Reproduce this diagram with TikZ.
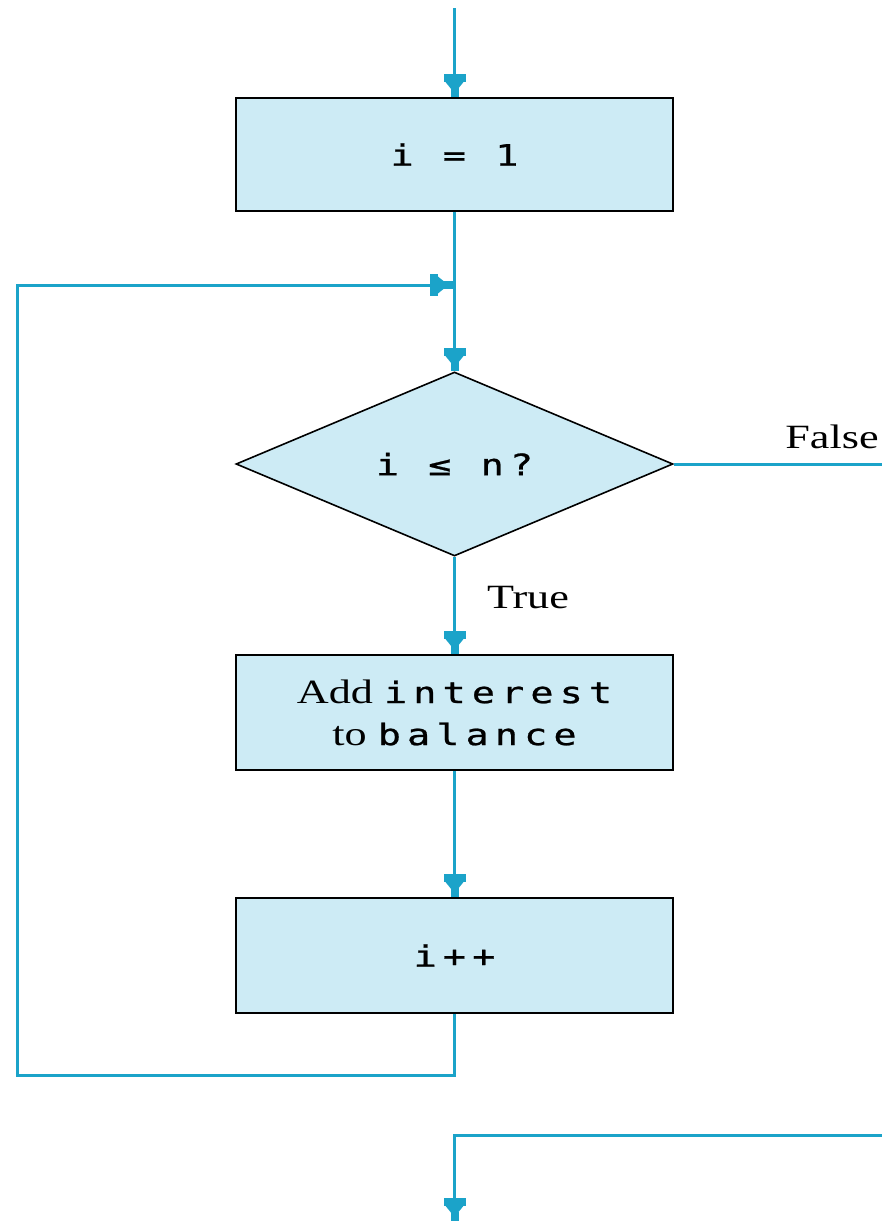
\documentclass[tikz,border=0pt]{standalone}
\usepackage{fontspec}
\setmainfont{Liberation Serif}[FakeStretch=1.3]
\newfontfamily\codefont[LetterSpace=21,FakeStretch=1.3,FakeBold=0.8]{DejaVu Sans Mono}
\newcommand{\code}[1]{{\fontsize{29.5}{42}\selectfont\codefont #1}}
\usetikzlibrary{shapes.geometric,arrows.meta}
\definecolor{flowblue}{HTML}{1BA3C9}
\definecolor{boxfill}{HTML}{CDEBF5}
\tikzset{
  x=1pt,y=-1pt,
  stepbox/.style={draw=black,line width=1.6pt,fill=boxfill,rectangle,minimum width=437pt,minimum height=113pt,inner sep=0pt,font=\fontsize{34}{42}\selectfont,align=center},
  decbox/.style={draw=black,line width=1.6pt,fill=boxfill,diamond,minimum width=437pt,minimum height=184pt,inner sep=0pt,shape aspect=2.37,font=\fontsize{34}{42}\selectfont},
  flowline/.style={draw=flowblue,line width=3pt},
  flow/.style={flowline,-{Rectangle[length=8pt,width=22pt,sep=0pt]Triangle[length=11pt,width=17pt,sep=-5pt]Rectangle[length=9pt,width=8pt]}},
  lbl/.style={font=\fontsize{34}{42}\selectfont,inner sep=0pt}
}
\begin{document}
\begin{tikzpicture}
\useasboundingbox (0,0) rectangle (882,1221);
\node[stepbox] (init) at (454.5,154.5) {\code{i = 1}};
\node[decbox] (cond) at (454.5,464) {\code{i ≤ n?}};
\node[stepbox,minimum height=115pt] (body) at (454.5,712.5) {Add \code{interest}\\to \code{balance}};
\node[stepbox,minimum height=115pt] (incr) at (454.5,955.5) {\code{i++}};
\coordinate (start) at (454.5,8);
\coordinate (join) at (454.5,285);
\coordinate (loopBL) at (17,1075);
\coordinate (falseEnd) at (882,464);
\coordinate (exitR) at (882,1135);
\coordinate (exitEnd) at (454.5,1221);
\draw[flow] (start) -- (init.north);
\draw[flow] (init.south) -- (cond.north);
\draw[flow] (incr.south) |- (loopBL) |- ([xshift=-2pt]join);
\draw[flowline] (cond.east) -- (falseEnd);
\draw[flow] (cond.south) -- (body.north);
\draw[flow] (body.south) -- (incr.north);
\draw[flow] (exitR) -| (exitEnd);
\node[lbl] (falseLbl) at (832,437) {False};
\node[lbl] (trueLbl) at (528,598) {True};
\end{tikzpicture}
\end{document}
